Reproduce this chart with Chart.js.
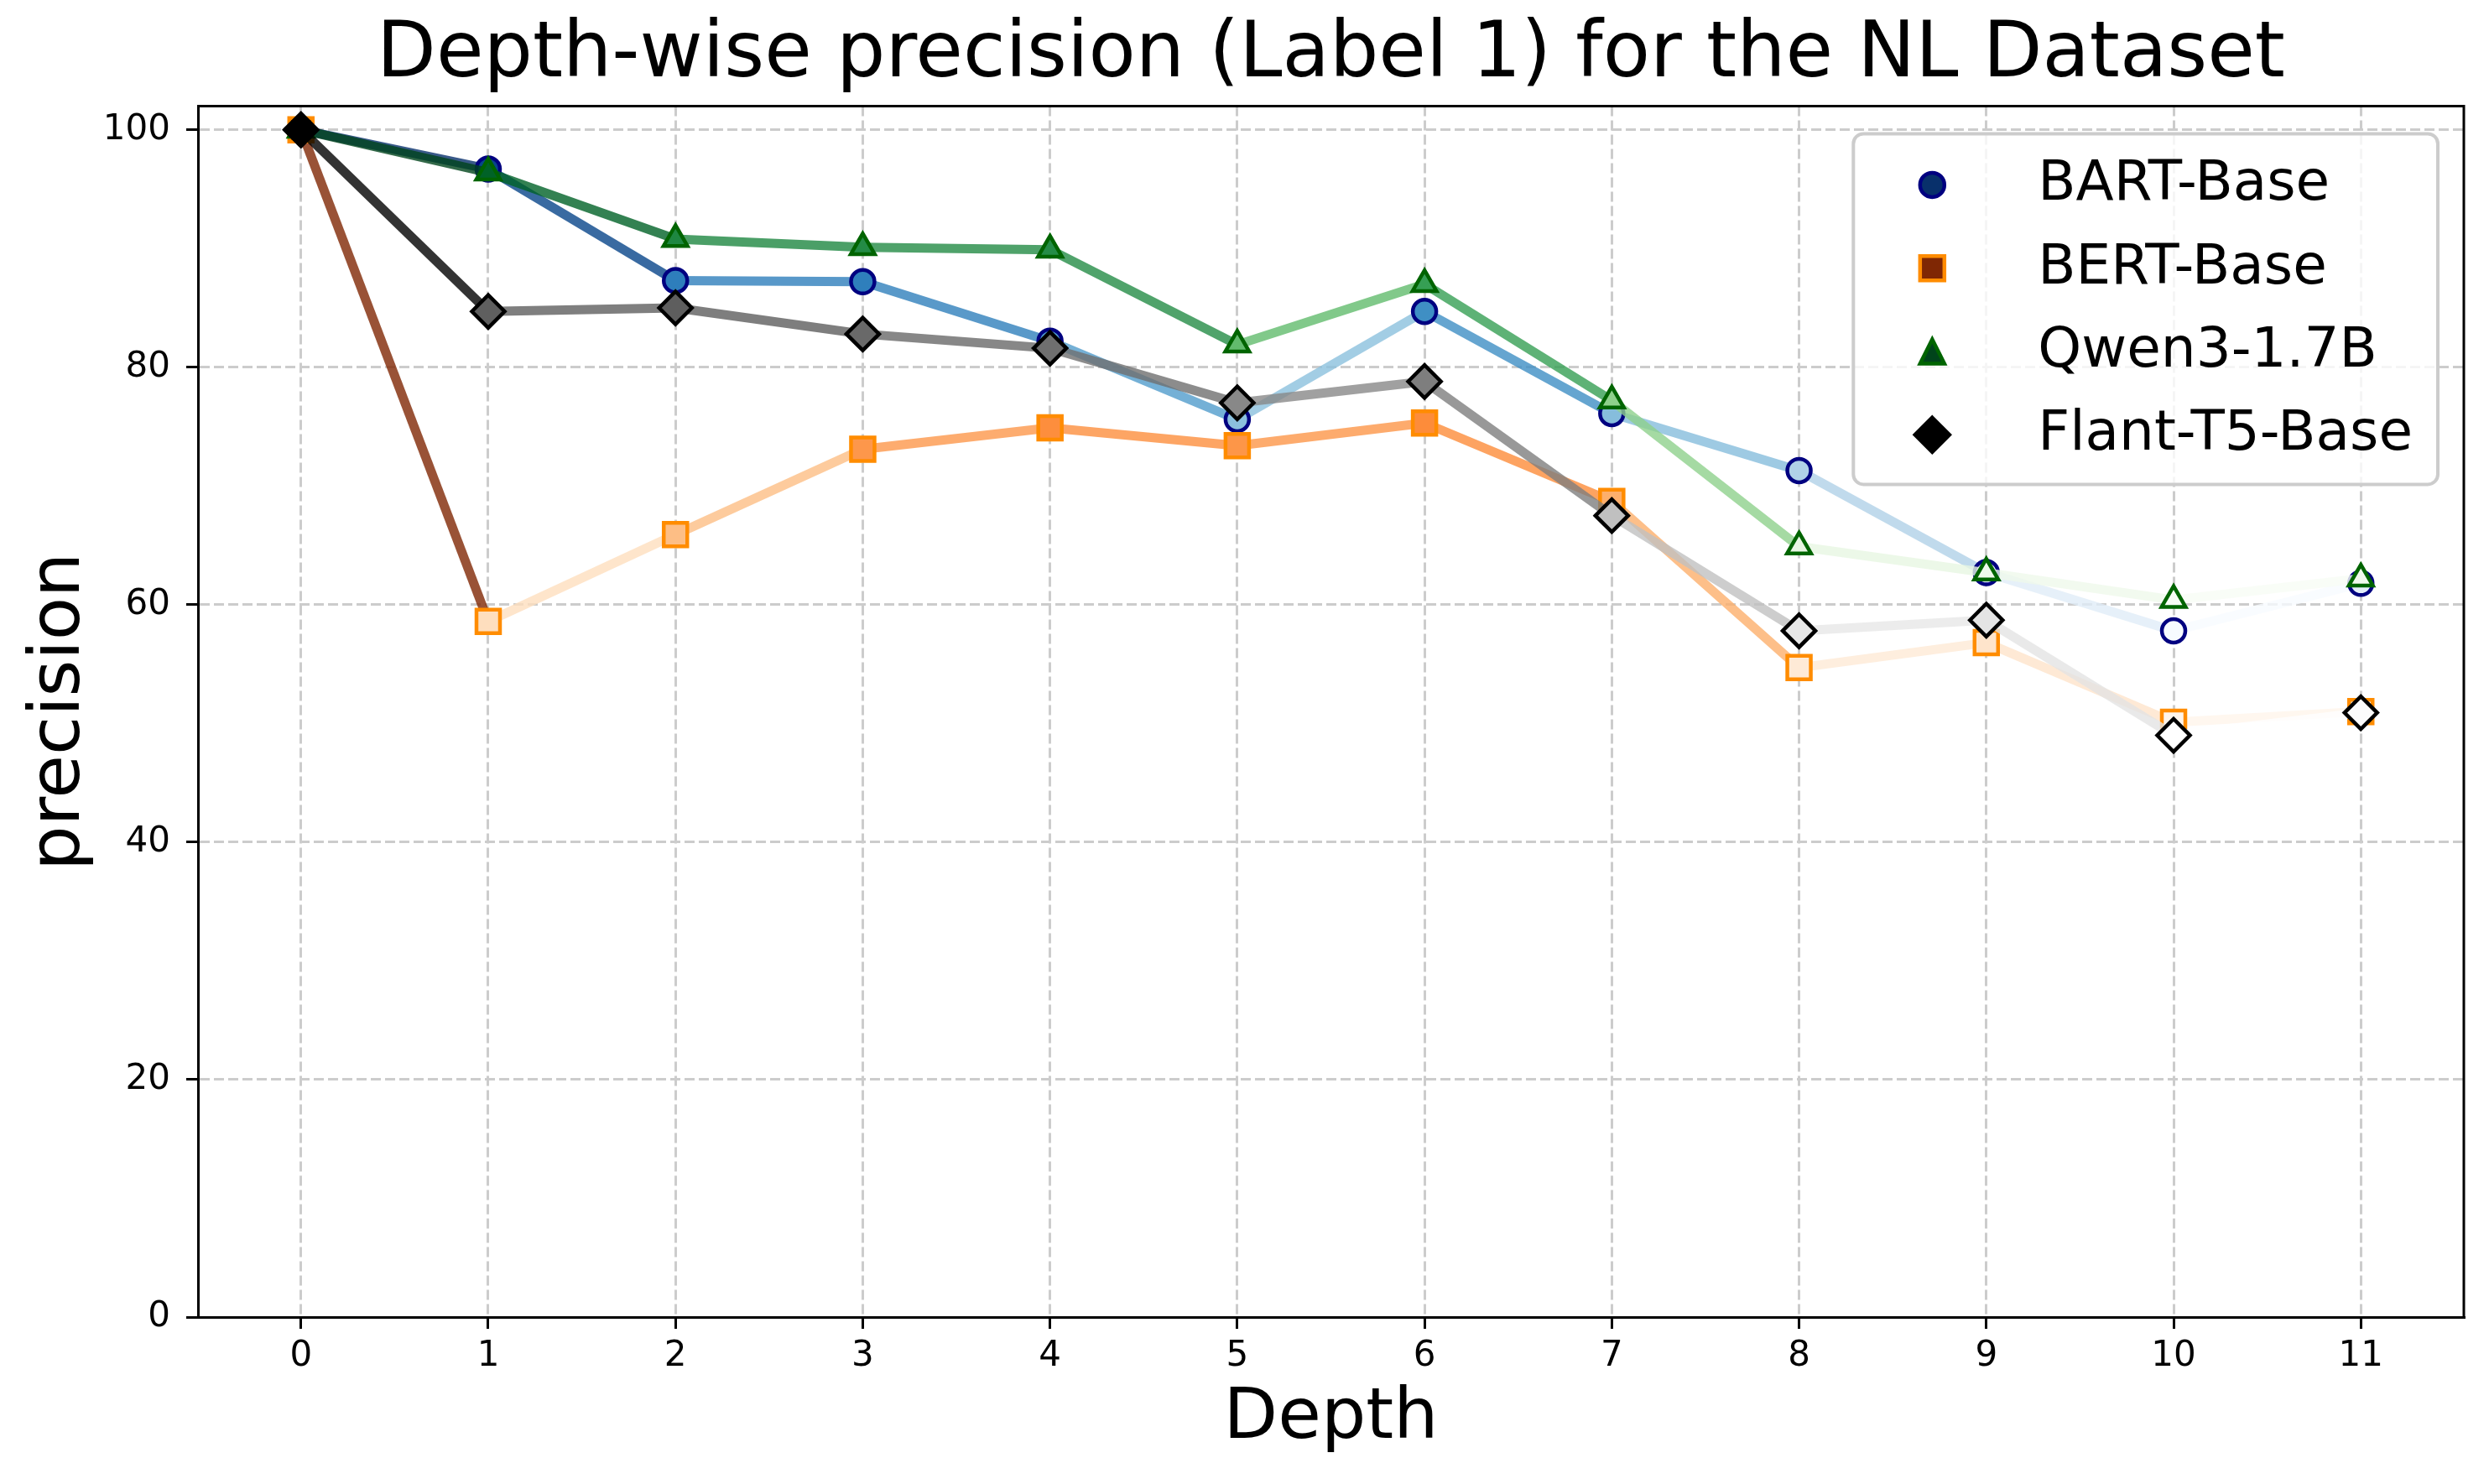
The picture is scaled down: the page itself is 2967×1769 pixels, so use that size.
<!DOCTYPE html>
<html>
<head>
<meta charset="utf-8">
<script src="https://cdn.jsdelivr.net/npm/chart.js@4.4.1/dist/chart.umd.min.js"></script>
<style>
  html, body { margin: 0; padding: 0; background: #ffffff; }
  canvas { display: block; }
</style>
</head>
<body>
<canvas id="chart" width="2967" height="1769"></canvas>
<script>
const depths = [0, 1, 2, 3, 4, 5, 6, 7, 8, 9, 10, 11];
const yTicks = [0, 20, 40, 60, 80, 100];
const modelNames = ["BART-Base", "BERT-Base", "Qwen3-1.7B", "Flant-T5-Base"];

const bartBase  = [100, 96.7, 87.3, 87.2, 82.2, 75.6, 84.7, 76.1, 71.3, 62.7, 57.8, 61.8];
const bertBase  = [100, 58.6, 65.9, 73.1, 74.9, 73.4, 75.3, 68.7, 54.7, 56.8, 50.1, 51.0];
const qwen17b   = [100, 96.4, 90.8, 90.1, 89.9, 81.9, 87.0, 77.2, 64.9, 62.7, 60.4, 62.2];
const flantBase = [100, 84.7, 85.0, 82.8, 81.6, 77.0, 78.8, 67.5, 57.8, 58.7, 49.0, 50.9];

// matplotlib colour maps (ColorBrewer stops)
const BLUES   = ["#f7fbff", "#deebf7", "#c6dbef", "#9ecae1", "#6baed6", "#4292c6", "#2171b5", "#08519c", "#08306b"];
const ORANGES = ["#fff5eb", "#fee6ce", "#fdd0a2", "#fdae6b", "#fd8d3c", "#f16913", "#d94801", "#a63603", "#7f2704"];
const GREENS  = ["#f7fcf5", "#e5f5e0", "#c7e9c0", "#a1d99b", "#74c476", "#41ab5d", "#238b45", "#006d2c", "#00441b"];
const GREYS   = ["#ffffff", "#f0f0f0", "#d9d9d9", "#bdbdbd", "#969696", "#737373", "#525252", "#252525", "#000000"];

const FONT = "'DejaVu Sans', 'Liberation Sans', sans-serif";

function hexToRgb(h) {
    return [1, 3, 5].map(i => parseInt(h.substr(i, 2), 16));
}

function cmapColor(stops, t) {
    t = Math.min(1, Math.max(0, t));
    const pos = t * (stops.length - 1);
    const i = Math.min(Math.floor(pos), stops.length - 2);
    const f = pos - i;
    const a = hexToRgb(stops[i]);
    const b = hexToRgb(stops[i + 1]);
    return [0, 1, 2].map(k => Math.round(a[k] + (b[k] - a[k]) * f));
}

function rgba(c, alpha) {
    return "rgba(" + c[0] + "," + c[1] + "," + c[2] + "," + alpha + ")";
}

const models = [
    { name: modelNames[0], values: bartBase,  stops: BLUES,   edge: "#000080", style: "circle",   radius: 14,   legend: "circle",   order: 3 },
    { name: modelNames[1], values: bertBase,  stops: ORANGES, edge: "#ff8c00", style: "rect",     radius: 19.8, legend: "square",   order: 2 },
    { name: modelNames[2], values: qwen17b,   stops: GREENS,  edge: "#006400", style: "triangle", radius: 16.5, legend: "triangle", order: 1 },
    { name: modelNames[3], values: flantBase, stops: GREYS,   edge: "#000000", style: "rectRot",  radius: 19.5, legend: "diamond",  order: 0 }
];

function makeDataset(m) {
    const lo = Math.min(...m.values);
    const hi = Math.max(...m.values);
    const rgb = m.values.map(v => cmapColor(m.stops, (v - lo) / (hi - lo)));
    m.topColor = rgba(cmapColor(m.stops, 1), 1);
    return {
        label: m.name,
        data: m.values.map((v, i) => ({ x: depths[i], y: v })),
        borderWidth: 11,
        borderColor: rgba(rgb[0], 0.8),
        segment: {
            borderColor: ctx => rgba(rgb[ctx.p0DataIndex], 0.8)
        },
        fill: false,
        tension: 0,
        pointStyle: m.style,
        pointRadius: m.radius,
        pointBackgroundColor: rgb.map(c => rgba(c, 1)),
        pointBorderColor: m.edge,
        pointBorderWidth: 4.5,
        order: m.order
    };
}

function drawMarker(ctx, shape, cx, cy) {
    ctx.beginPath();
    if (shape === "circle") {
        ctx.arc(cx, cy, 14.5, 0, Math.PI * 2);
    } else if (shape === "square") {
        ctx.rect(cx - 14.5, cy - 14.5, 29, 29);
    } else if (shape === "triangle") {
        ctx.moveTo(cx, cy - 14.5);
        ctx.lineTo(cx - 14.5, cy + 14.5);
        ctx.lineTo(cx + 14.5, cy + 14.5);
        ctx.closePath();
    } else {
        ctx.moveTo(cx, cy - 20.5);
        ctx.lineTo(cx + 20.5, cy);
        ctx.lineTo(cx, cy + 20.5);
        ctx.lineTo(cx - 20.5, cy);
        ctx.closePath();
    }
    ctx.fill();
    ctx.stroke();
}

// top/right spines and the framed legend
const framePlugin = {
    id: "frame",
    afterDraw(chart) {
        const ctx = chart.ctx;
        const a = chart.chartArea;
        ctx.save();
        ctx.strokeStyle = "#000";
        ctx.lineWidth = 3;
        ctx.beginPath();
        ctx.moveTo(a.left, a.top);
        ctx.lineTo(a.right, a.top);
        ctx.lineTo(a.right, a.bottom);
        ctx.stroke();

        ctx.font = "66px " + FONT;
        const textW = Math.max(...models.map(m => ctx.measureText(m.name).width));
        const w = 220 + textW + 30;
        const h = 418;
        const right = a.right - 31;
        const left = right - w;
        const top = a.top + 33;

        ctx.beginPath();
        ctx.roundRect(left, top, w, h, 12);
        ctx.fillStyle = "rgba(255,255,255,0.8)";
        ctx.fill();
        ctx.strokeStyle = "#cccccc";
        ctx.lineWidth = 4;
        ctx.stroke();

        models.forEach((m, i) => {
            const base = top + 79 + i * 99.3;
            ctx.fillStyle = m.topColor;
            ctx.strokeStyle = m.edge;
            ctx.lineWidth = 4.5;
            drawMarker(ctx, m.legend, left + 94, base - 18);
            ctx.fillStyle = "#000";
            ctx.textBaseline = "alphabetic";
            ctx.textAlign = "left";
            ctx.fillText(m.name, left + 220, base);
        });
        ctx.restore();
    }
};

const gridOpts = {
    color: "#cccccc",
    lineWidth: 3,
    drawTicks: true,
    tickLength: 14,
    tickColor: "#000000",
    tickWidth: 3
};

new Chart(document.getElementById("chart").getContext("2d"), {
    type: "line",
    data: { datasets: models.map(makeDataset) },
    plugins: [framePlugin],
    options: {
        responsive: false,
        devicePixelRatio: 1,
        animation: false,
        events: [],
        layout: { padding: { left: 0, right: 30, top: 0, bottom: 0 } },
        plugins: {
            legend: { display: false },
            tooltip: { enabled: false },
            title: {
                display: true,
                text: "Depth-wise precision (Label 1) for the NL Dataset",
                color: "#000",
                fullSize: false,
                font: { family: FONT, size: 92, weight: "normal" },
                padding: { top: 12, bottom: 4 }
            }
        },
        scales: {
            x: {
                type: "linear",
                min: -0.55,
                max: 11.55,
                afterBuildTicks: s => { s.ticks = depths.map(v => ({ value: v })); },
                afterFit: s => { s.height = 199; },
                grid: gridOpts,
                border: { display: true, color: "#000", width: 3, dash: [12, 5] },
                ticks: {
                    color: "#000",
                    font: { family: FONT, size: 42 },
                    padding: 8,
                    maxRotation: 0,
                    autoSkip: false
                },
                title: {
                    display: true,
                    text: "Depth",
                    color: "#000",
                    font: { family: FONT, size: 84 },
                    padding: { top: 0, bottom: 26 }
                }
            },
            y: {
                type: "linear",
                min: 0,
                max: 102,
                afterBuildTicks: s => { s.ticks = yTicks.map(v => ({ value: v })); },
                afterFit: s => { s.width = 236; },
                grid: gridOpts,
                border: { display: true, color: "#000", width: 3, dash: [12, 5] },
                ticks: {
                    color: "#000",
                    font: { family: FONT, size: 42 },
                    padding: 19
                },
                title: {
                    display: true,
                    text: "precision",
                    color: "#000",
                    font: { family: FONT, size: 84 },
                    padding: { top: 22, bottom: 0 }
                }
            }
        }
    }
});
</script>
</body>
</html>
